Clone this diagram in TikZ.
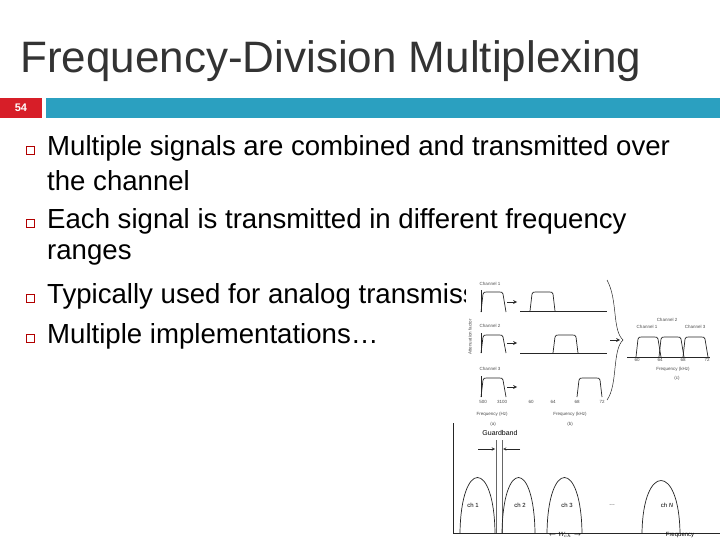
\documentclass[tikz,border=0pt]{standalone}
\usepackage{fontspec}
\setmainfont{Liberation Sans}
\definecolor{teal1}{RGB}{43,160,192}
\definecolor{red1}{RGB}{215,30,40}
\begin{document}
\begin{tikzpicture}[x=1pt,y=-1pt,
  bul/.style={draw=red!70!black,line width=0.7pt,minimum size=8pt,inner sep=0pt},
  btxt/.style={anchor=west,font=\fontsize{27.6}{30}\selectfont,text=black,inner sep=0pt},
  tiny/.style={font=\fontsize{4.5}{5}\selectfont,text=black!70,inner sep=0pt},
  fig/.style={line width=0.7pt,black!85}]
\useasboundingbox (0,0) rectangle (720,540);
\fill[white] (0,0) rectangle (720,540);
\node[anchor=base west,font=\fontsize{44}{48}\selectfont,text=black!80,inner sep=0pt] (title) at (20,73) {Frequency-Division Multiplexing};
\fill[red1] (0,98) rectangle (42,118);
\node[text=white,font=\bfseries\fontsize{11}{12}\selectfont] (num) at (21,108) {54};
\fill[teal1] (46,98) rectangle (720,118);
\node[bul] (b1) at (30,150) {};
\node[bul] (b2) at (30,223) {};
\node[bul] (b3) at (30,298) {};
\node[bul] (b4) at (30,338) {};
\node[btxt] (t1) at (47,148) {Multiple signals are combined and transmitted over};
\node[btxt] (t1b) at (47,181) {the channel};
\node[btxt] (t2) at (47,221) {Each signal is transmitted in different frequency};
\node[btxt] (t2b) at (47,255) {ranges};
\node[btxt] (t3) at (47,296) {Typically used for analog transmission};
\node[btxt] (t4) at (47,336) {Multiple implementations…};
% figure background
\fill[white] (466,273) rectangle (720,540);
\fill[white] (440,410) rectangle (466,540);
% top left pulses
\foreach \y/\h/\n in {312/292/1,353/335/2,397/378/3}{
  \draw[fig] (481,\y) -- (483,\h+2) .. controls (484,\h) .. (487,\h) -- (499,\h) .. controls (502,\h) .. (503,\h+2) -- (506,\y);
  \draw[fig] (481,\y) -- (481,\h-2);
  \draw[fig,->,>=stealth] (507,\y-10) -- (517,\y-10);
}
\node[tiny] (c1) at (490,284) {Channel 1};
\node[tiny] (c2) at (490,326) {Channel 2};
\node[tiny] (c3) at (490,369) {Channel 3};
\node[tiny,rotate=90] (att) at (470,337) {Attenuation factor};
% shifted
\draw[fig] (520,311) -- (607,311);
\draw[fig] (520,353) -- (607,353);
\foreach \a/\y/\h in {530/311/292,553/353/335,577/397/378}{
  \draw[fig] (\a,\y) -- (\a+2,\h+2) .. controls (\a+3,\h) .. (\a+6,\h) -- (\a+19,\h) .. controls (\a+22,\h) .. (\a+23,\h+2) -- (\a+25,\y);
}
\node[tiny] (s1) at (483,402) {500};
\node[tiny] (s2) at (502,402) {3100};
\node[tiny] (k1) at (531,402) {60};
\node[tiny] (k2) at (553,402) {64};
\node[tiny] (k3) at (577,402) {68};
\node[tiny] (k4) at (602,402) {72};
\node[tiny] (fa) at (492,414) {Frequency (Hz)};
\node[tiny] (la) at (493,424) {(a)};
\node[tiny] (fb) at (570,414) {Frequency (kHz)};
\node[tiny] (lb) at (570,424) {(b)};
% brace
\draw[fig,line width=0.5pt] (607,280) .. controls (618,300) and (612,330) .. (623,340) .. controls (612,350) and (618,385) .. (607,400);
\draw[fig,->,>=stealth] (610,340) -- (620,340);
% combined
\draw[fig] (627,357) -- (710,357);
\foreach \a in {636,659,683}{
  \draw[fig] (\a,357) -- (\a+2,339) .. controls (\a+3,337) .. (\a+6,337) -- (\a+18,337) .. controls (\a+21,337) .. (\a+22,339) -- (\a+25,357);
}
\node[tiny] (cc2) at (667,320) {Channel 2};
\node[tiny] (cc1) at (647,327) {Channel 1};
\node[tiny] (cc3) at (695,327) {Channel 3};
\node[tiny] (m1) at (637,360) {60};
\node[tiny] (m2) at (660,360) {64};
\node[tiny] (m3) at (683,360) {68};
\node[tiny] (m4) at (707,360) {72};
\node[tiny] (fc) at (673,369) {Frequency (kHz)};
\node[tiny] (lc) at (677,378) {(c)};
% bottom
\draw[fig] (453,423) -- (453,533) -- (720,533);
\draw[fig,black!60,line width=0.5pt] (496,440) -- (496,533) (502,440) -- (502,533);
\foreach \a/\b/\p in {460/495/473,502/535/473,547/582/473,642/680/477}{
  \draw[fig] (\a,533) .. controls (\a+1,\p-14) and (\b-1,\p-14) .. (\b,533);
}
\node[font=\fontsize{7}{8}\selectfont] (gb) at (500,433) {Guardband};
\draw[fig,->,>=stealth,line width=0.5pt] (478,449) -- (495,449);
\draw[fig,->,>=stealth,line width=0.5pt] (520,449) -- (503,449);
\node[font=\fontsize{6}{7}\selectfont] (h1) at (473,505) {ch 1};
\node[font=\fontsize{6}{7}\selectfont] (h2) at (520,505) {ch 2};
\node[font=\fontsize{6}{7}\selectfont] (h3) at (567,505) {ch 3};
\node[font=\fontsize{6}{7}\selectfont] (hd) at (612,505) {…};
\node[font=\fontsize{6}{7}\selectfont] (hn) at (667,505) {ch \emph{N}};
\node[font=\fontsize{6}{7}\selectfont] (w) at (565,535) {$\leftarrow W_{\!ch}\rightarrow$};
\node[font=\fontsize{6}{7}\selectfont] (fq) at (680,535) {Frequency};
\end{tikzpicture}
\end{document}
